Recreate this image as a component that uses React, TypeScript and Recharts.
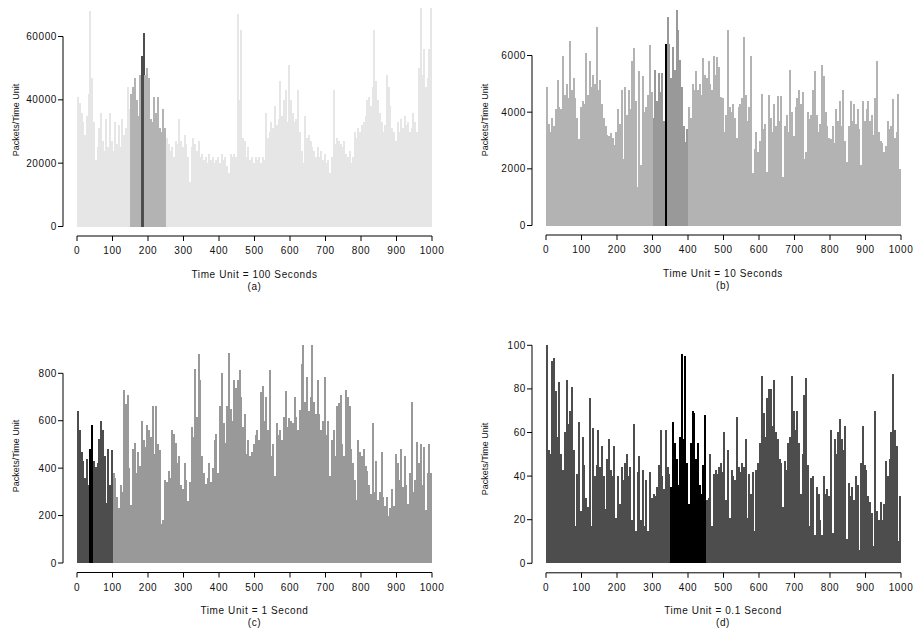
import { BarChart, Bar, XAxis, YAxis, Cell } from 'recharts'

// Packets per time unit, one value per 5 time units
const BIN = 5
const X_TICKS = [0, 100, 200, 300, 400, 500, 600, 700, 800, 900, 1000]

// (a) time unit = 100 s, values in thousands of packets
const panelAThousands = [
  41, 39, 36, 33, 29, 35, 42, 68, 47, 33,
  21, 25, 31, 36, 27, 24, 34, 25, 36, 27,
  24, 33, 26, 32, 25, 34, 29, 31, 44, 37,
  42, 44, 47, 40, 35, 48, 54, 61, 48, 50,
  47, 34, 33, 41, 36, 41, 31, 30, 37, 31,
  28, 26, 24, 25, 22, 27, 26, 34, 27, 25,
  29, 26, 22, 14, 25, 28, 26, 24, 27, 22,
  23, 21, 22, 20, 23, 21, 22, 20, 21, 22,
  20, 23, 21, 22, 19, 17, 23, 22, 23, 22,
  67, 40, 62, 28, 27, 22, 25, 21, 22, 20,
  22, 21, 22, 20, 22, 21, 36, 28, 30, 33,
  31, 38, 32, 34, 46, 35, 40, 43, 33, 51,
  40, 36, 33, 34, 43, 30, 24, 20, 35, 28,
  29, 27, 25, 24, 22, 25, 22, 24, 21, 23,
  20, 21, 17, 22, 43, 26, 28, 27, 26, 25,
  27, 23, 22, 24, 20, 22, 30, 28, 31, 30,
  32, 33, 35, 40, 41, 38, 44, 62, 46, 40,
  36, 33, 30, 32, 48, 44, 38, 31, 30, 27,
  33, 30, 34, 31, 35, 32, 33, 30, 31, 36,
  33, 30, 50, 69, 48, 56, 44, 47, 56, 69,
]
const panelA = panelAThousands.map((v) => v * 1000)

// (b) time unit = 10 s
const panelB = [
  4900, 3600, 3300, 3800, 3500, 4100, 5150, 4200, 4100, 6000,
  4600, 5000, 4500, 6500, 4800, 5200, 4500, 3800, 3050, 4200,
  4400, 4300, 6080, 4600, 5800, 4900, 5300, 5000, 7000, 4800,
  5150, 4300, 3800, 3500, 3200, 3150, 3250, 3100, 2830, 3300,
  4100, 3600, 4800, 2360, 4900, 3900, 4800, 4100, 5800, 6250,
  4400, 1370, 5450, 2130, 5270, 4000, 4200, 4600, 6370, 4700,
  3800, 5500, 4400, 5400, 4700, 5400, 3700, 6400, 7350, 6400,
  5200, 6300, 5500, 7600, 6900, 5850, 4900, 3500, 2950, 3400,
  4200, 3800, 5000, 4800, 5440, 4800, 5000, 4600, 5900, 5300,
  5200, 5800, 5000, 4800, 5970, 5300, 5950, 5600, 4550, 4500,
  3300, 3900, 6900, 4200, 4000, 4300, 3800, 3100, 4200, 4300,
  4500, 6660, 4600, 3700, 4200, 5970, 1840, 2700, 3300, 2600,
  3000, 4630, 3400, 3600, 1900, 4600, 3800, 3300, 4300, 3500,
  4570, 3700, 4570, 1720, 3500, 3900, 3300, 5500, 4000, 3170,
  4200, 4500, 4800, 4300, 4700, 2360, 2600, 4000, 3750, 3900,
  4800, 5440, 3900, 3300, 3600, 5680, 5270, 4000, 3500, 3100,
  3060, 3500, 2900, 4100, 3700, 4400, 3500, 4800, 3000, 2250,
  3500, 4400, 3700, 4300, 3600, 4100, 3400, 2130, 4400, 3700,
  4100, 4400, 3700, 3900, 3200, 4500, 5800, 3300, 3000, 2900,
  2600, 2800, 3700, 3400, 3500, 4450, 3100, 3300, 4630, 2000,
]

// (c) time unit = 1 s
const panelC = [
  640, 560, 470, 430, 360, 440, 330, 480, 580, 430,
  405, 420, 525, 600, 560, 450, 255, 480, 330, 475,
  380, 360, 280, 230, 330, 300, 730, 670, 710, 400,
  245, 480, 505, 380, 470, 410, 600, 520, 490, 580,
  560, 530, 660, 460, 660, 500, 475, 165, 180, 350,
  340, 390, 360, 560, 545, 505, 420, 450, 330, 310,
  420, 350, 260, 340, 575, 530, 820, 615, 880, 770,
  450, 380, 335, 360, 420, 340, 400, 520, 545, 380,
  660, 800, 590, 505, 660, 885, 650, 600, 770, 740,
  770, 815, 700, 575, 630, 460, 520, 450, 470, 500,
  540, 560, 520, 720, 745, 600, 700, 560, 815, 450,
  500, 365, 590, 540, 560, 520, 615, 725, 575, 610,
  600, 590, 700, 615, 560, 645, 840, 920, 680, 785,
  640, 700, 920, 680, 630, 770, 630, 560, 600, 785,
  540, 600, 365, 520, 560, 450, 660, 675, 710, 500,
  450, 730, 700, 660, 480, 420, 350, 265, 520, 470,
  450, 480, 410, 390, 330, 290, 590, 300, 430, 265,
  300, 470, 280, 240, 280, 200, 230, 310, 240, 460,
  420, 350, 480, 320, 450, 330, 250, 380, 680, 300,
  350, 510, 420, 500, 330, 490, 225, 380, 500, 380,
]

// (d) time unit = 0.1 s
const panelD = [
  100, 52, 50, 93, 94, 79, 58, 83, 50, 43,
  60, 84, 64, 70, 81, 52, 17, 41, 65, 24,
  58, 45, 30, 26, 76, 17, 62, 40, 45, 61,
  44, 54, 40, 25, 48, 57, 43, 40, 54, 21,
  40, 27, 44, 38, 46, 50, 40, 44, 20, 64,
  15, 42, 49, 20, 43, 17, 38, 15, 42, 30,
  32, 31, 35, 45, 61, 40, 34, 61, 44, 41,
  35, 65, 55, 48, 36, 58, 96, 57, 95, 46,
  27, 55, 70, 69, 48, 55, 36, 32, 45, 68,
  29, 30, 50, 17, 41, 43, 41, 44, 46, 42,
  60, 29, 52, 21, 43, 40, 38, 67, 44, 42,
  46, 44, 57, 21, 41, 32, 42, 15, 43, 46,
  55, 86, 69, 58, 76, 80, 80, 63, 84, 60,
  57, 48, 46, 26, 47, 43, 55, 58, 86, 70,
  61, 70, 55, 32, 50, 77, 85, 45, 17, 39,
  40, 13, 35, 32, 20, 13, 40, 32, 34, 31,
  61, 14, 57, 50, 60, 66, 57, 52, 63, 11,
  37, 31, 35, 29, 40, 36, 6, 46, 63, 45,
  43, 31, 28, 23, 8, 70, 24, 20, 28, 20,
  27, 47, 40, 48, 60, 87, 61, 54, 10, 31,
]

const FONT = '"Liberation Sans", Arial, Helvetica, sans-serif'
const CHART_W = 454
const Y_AXIS_W = 63
const X_PAD = 14
const RIGHT = 22
const DATA_W = CHART_W - RIGHT - Y_AXIS_W - X_PAD
const GAP = 9.5
const X_AXIS_H = 30

type Shade = { from: number; to: number; color: string }

interface PanelProps {
  left: number
  top: number
  zeroY: number
  topTickY: number
  values: number[]
  yTicks: number[]
  yMax: number
  base: string
  shades: Shade[]
  title: string
  tag: string
}

function Panel({ left, top, zeroY, topTickY, values, yTicks, yMax, base, shades, title, tag }: PanelProps) {
  const pxPerUnit = (zeroY - topTickY) / yTicks[yTicks.length - 1]
  const marginTop = zeroY - yMax * pxPerUnit
  const height = zeroY + GAP + X_AXIS_H
  const data = values.map((v, i) => ({ t: i * BIN + BIN / 2, v }))

  const fillFor = (t: number) => {
    // later shades win (darkest band listed last)
    let c = base
    shades.forEach((s) => {
      if (t >= s.from && t < s.to) c = s.color
    })
    return c
  }

  const tickStyle = { fontSize: 10, fill: '#111', fontFamily: FONT, letterSpacing: 0.6 }
  const plotMid = (marginTop + zeroY + GAP) / 2

  return (
    <div className="panel" style={{ position: 'absolute', left, top, width: CHART_W, height }}>
      <BarChart
        width={CHART_W}
        height={height}
        data={data}
        barCategoryGap={0}
        barGap={0}
        margin={{ top: marginTop, right: RIGHT, bottom: 0, left: 0 }}
        style={{ fontFamily: FONT }}
      >
        <XAxis
          dataKey="t"
          type="number"
          domain={[0, 1000]}
          ticks={X_TICKS}
          interval={0}
          padding={{ left: X_PAD, right: 0 }}
          height={X_AXIS_H}
          tickSize={5}
          tickMargin={6}
          tick={tickStyle}
          axisLine={{ stroke: '#000', strokeDasharray: `0 ${X_PAD} ${DATA_W} 1000` }}
          tickLine={{ stroke: '#000' }}
        />
        <YAxis
          type="number"
          domain={[0, yMax]}
          ticks={yTicks}
          interval={0}
          width={Y_AXIS_W}
          padding={{ top: 0, bottom: GAP }}
          tickSize={5}
          tickMargin={1}
          tick={tickStyle}
          axisLine={{
            stroke: '#000',
            strokeDasharray: `0 ${topTickY - marginTop} ${zeroY - topTickY} 1000`,
          }}
          tickLine={{ stroke: '#000' }}
        />
        <Bar dataKey="v" isAnimationActive={false}>
          {data.map((d) => {
            const c = fillFor(d.t)
            return <Cell key={d.t} fill={c} />
          })}
        </Bar>
      </BarChart>
      <div
        style={{
          position: 'absolute',
          left: 16 - 60,
          top: plotMid - 6,
          width: 120,
          height: 12,
          lineHeight: '12px',
          fontSize: 9,
          fontFamily: FONT,
          color: '#111',
          textAlign: 'center',
          transform: 'rotate(-90deg)',
          whiteSpace: 'nowrap',
        }}
      >
        Packets/Time Unit
      </div>
      <div
        style={{
          position: 'absolute',
          left: Y_AXIS_W + X_PAD + DATA_W / 2 - 110,
          top: zeroY + 48 - 6,
          width: 220,
          lineHeight: '12px',
          fontSize: 10,
          letterSpacing: 0.6,
          fontFamily: FONT,
          color: '#111',
          textAlign: 'center',
        }}
      >
        {title}
        <br />
        {tag}
      </div>
    </div>
  )
}

export default function App() {
  return (
    <div style={{ position: 'absolute', left: 0, top: 0, width: 922, height: 640, background: '#fff' }}>
      {/* snap bar edges to whole pixels so adjacent bins close up without seams */}
      <style>{'.panel .recharts-bar-rectangle path { shape-rendering: crispEdges; }'}</style>
      <Panel
        left={0}
        top={0}
        zeroY={226.5}
        topTickY={36.5}
        values={panelA}
        yTicks={[0, 20000, 40000, 60000]}
        yMax={70000}
        base="#e6e6e6"
        shades={[
          { from: 150, to: 250, color: '#b3b3b3' },
          { from: 180, to: 190, color: '#4d4d4d' },
        ]}
        title="Time Unit = 100 Seconds"
        tag="(a)"
      />
      <Panel
        left={468.5}
        top={0}
        zeroY={225.5}
        topTickY={55.5}
        values={panelB}
        yTicks={[0, 2000, 4000, 6000]}
        yMax={7800}
        base="#b3b3b3"
        shades={[
          { from: 300, to: 400, color: '#999999' },
          { from: 335, to: 340, color: '#000000' },
        ]}
        title="Time Unit = 10 Seconds"
        tag="(b)"
      />
      <Panel
        left={0}
        top={320}
        zeroY={243}
        topTickY={53.3}
        values={panelC}
        yTicks={[0, 200, 400, 600, 800]}
        yMax={940}
        base="#999999"
        shades={[
          { from: 0, to: 100, color: '#4d4d4d' },
          { from: 35, to: 45, color: '#000000' },
        ]}
        title="Time Unit = 1 Second"
        tag="(c)"
      />
      <Panel
        left={468.5}
        top={320}
        zeroY={243.3}
        topTickY={25.3}
        values={panelD}
        yTicks={[0, 20, 40, 60, 80, 100]}
        yMax={100}
        base="#4d4d4d"
        shades={[{ from: 350, to: 450, color: '#000000' }]}
        title="Time Unit = 0.1 Second"
        tag="(d)"
      />
    </div>
  )
}
